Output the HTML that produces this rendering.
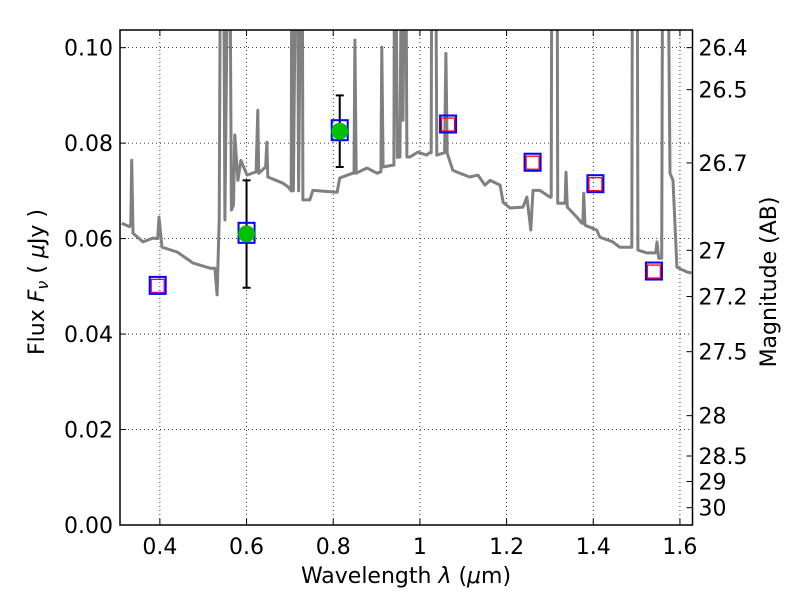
<!DOCTYPE html>
<html><head><meta charset="utf-8"><style>
body{margin:0;background:#fff;}
svg{display:block;font-family:"DejaVu Sans","Liberation Sans",sans-serif;}
</style></head><body>
<svg id="chart" width="800" height="600"></svg>
<script>
const specLam=[0.312,0.33,0.333,0.335,0.338,0.361,0.384,0.395,0.398,0.405,0.440,0.476,0.516,0.527,0.532,0.537,0.541,0.546,0.550,0.560,0.565,0.570,0.573,0.580,0.587,0.601,0.622,0.626,0.628,0.644,0.647,0.649,0.684,0.696,0.703,0.705,0.708,0.716,0.72,0.728,0.730,0.746,0.753,0.809,0.815,0.845,0.848,0.850,0.853,0.878,0.901,0.910,0.912,0.915,0.938,0.940,0.942,0.948,0.954,0.959,0.961,0.966,0.970,0.977,0.995,1.016,1.022,1.026,1.028,1.035,1.039,1.053,1.057,1.060,1.063,1.076,1.092,1.115,1.134,1.150,1.162,1.185,1.192,1.208,1.238,1.247,1.256,1.261,1.277,1.300,1.303,1.305,1.316,1.318,1.330,1.335,1.337,1.340,1.362,1.374,1.376,1.378,1.381,1.408,1.415,1.445,1.461,1.485,1.489,1.491,1.501,1.503,1.524,1.544,1.547,1.551,1.558,1.561,1.570,1.577,1.584,1.593,1.616,1.627];
const specFlux=[0.0632,0.0625,0.063,0.0764,0.0611,0.0593,0.0601,0.060,0.0645,0.0582,0.0572,0.0549,0.0538,0.0538,0.0482,0.0639,0.15,0.15,0.0639,0.15,0.0660,0.067,0.0817,0.0722,0.0764,0.0733,0.074,0.0869,0.0737,0.075,0.0802,0.0729,0.0716,0.0708,0.070,0.15,0.070,0.15,0.070,0.15,0.0681,0.0681,0.0701,0.0697,0.0727,0.0737,0.0737,0.1016,0.0737,0.0748,0.0737,0.074,0.1001,0.0750,0.0754,0.0754,0.15,0.077,0.0771,0.15,0.0848,0.15,0.0771,0.0771,0.0781,0.0775,0.078,0.078,0.15,0.15,0.0775,0.0779,0.078,0.0988,0.0779,0.0743,0.0737,0.0729,0.0733,0.0712,0.0722,0.0712,0.0676,0.0664,0.0666,0.0687,0.0618,0.0701,0.0701,0.0687,0.0687,0.15,0.15,0.0674,0.0674,0.0674,0.0739,0.0666,0.0645,0.0632,0.0632,0.0695,0.0628,0.0618,0.0603,0.0593,0.0582,0.0582,0.0582,0.15,0.15,0.0576,0.0570,0.057,0.0593,0.0559,0.0559,0.15,0.15,0.0737,0.0722,0.0540,0.0530,0.0528];
const photLam=[0.395,1.065,1.26,1.405,1.54];
const photFlux=[0.0502,0.084,0.076,0.0715,0.0532];
const detLam=[0.60,0.815];
const detFlux=[0.061,0.0825];
const detLo=[0.0497,0.075];
const detHi=[0.0722,0.090];
const xTicks=[0.4,0.6,0.8,1.0,1.2,1.4,1.6];
const xTickLabels=["0.4","0.6","0.8","1","1.2","1.4","1.6"];
const yTicks=[0,0.02,0.04,0.06,0.08,0.10];
const yTickLabels=["0.00","0.02","0.04","0.06","0.08","0.10"];
const magTicks=[26.4,26.5,26.7,27,27.2,27.5,28,28.5,29,30];
const magLabels=["26.4","26.5","26.7","27","27.2","27.5","28","28.5","29","30"];

const L=120,R=692.5,T=30,B=525;
const xmin=0.308,xmax=1.629,ymin=0,ymax=0.1037;
const X=v=>L+(v-xmin)/(xmax-xmin)*(R-L);
const Y=v=>B-(v-ymin)/(ymax-ymin)*(B-T);
const svg=document.getElementById('chart');
const NS='http://www.w3.org/2000/svg';
function mk(tag,attrs,parent){const e=document.createElementNS(NS,tag);for(const k in attrs)e.setAttribute(k,attrs[k]);(parent||svg).appendChild(e);return e;}

const defs=mk('defs',{});
const cp=mk('clipPath',{id:'clip'},defs);
mk('rect',{x:L,y:T,width:R-L,height:B-T},cp);

xTicks.forEach((v,i)=>{
  const g=mk('line',{x1:X(v),x2:X(v),y1:T,y2:B,stroke:'#000','stroke-width':0.8,'stroke-dasharray':'1,3'});
  
  
  mk('line',{x1:X(v),x2:X(v),y1:B,y2:B-6,stroke:'#000','stroke-width':1});
  mk('line',{x1:X(v),x2:X(v),y1:T,y2:T+6,stroke:'#000','stroke-width':1});
  const t=mk('text',{x:X(v),y:B+29,'text-anchor':'middle','font-size':22});
  t.textContent=xTickLabels[i];
  
  
});
yTicks.forEach((v,i)=>{
  const g=mk('line',{x1:L,x2:R,y1:Y(v),y2:Y(v),stroke:'#000','stroke-width':0.8,'stroke-dasharray':'1,3'});
  
  
  mk('line',{x1:L,x2:L+6,y1:Y(v),y2:Y(v),stroke:'#000','stroke-width':1});
  const t=mk('text',{x:L-7,y:Y(v)+8,'text-anchor':'end','font-size':22});
  t.textContent=yTickLabels[i];
  
  
});
magTicks.forEach((m,i)=>{
  const f=Math.pow(10,(23.9-m)/2.5);
  const y=Y(f);
  mk('line',{x1:R,x2:R-6,y1:y,y2:y,stroke:'#000','stroke-width':1});
  const t=mk('text',{x:R+6,y:y+8,'text-anchor':'start','font-size':22});
  t.textContent=magLabels[i];
  
  
});

let d='';
specLam.forEach((v,i)=>{d+=(i?'L':'M')+X(v).toFixed(1)+','+Y(specFlux[i]).toFixed(1);});
const sp=mk('path',{d:d,fill:'none',stroke:'#808080','stroke-width':3,'stroke-linejoin':'round','clip-path':'url(#clip)'});



photLam.forEach((v,i)=>{
  const x=X(v),y=Y(photFlux[i]);
  const o=mk('rect',{x:x-8,y:y-8.5,width:16,height:17,fill:'none',stroke:'#0000ff','stroke-width':2});
  
  
  const r=mk('rect',{x:x-6.5,y:y-6,width:13,height:13,fill:'none',stroke:i===0?'#c000c0':'#ff0000','stroke-width':1.3});
  
  
});
detLam.forEach((v,i)=>{
  const x=X(v),y=Y(detFlux[i]);
  const e=mk('line',{x1:x,x2:x,y1:Y(detHi[i]),y2:Y(detLo[i]),stroke:'#000','stroke-width':2});
  
  
  mk('line',{x1:x-4,x2:x+4,y1:Y(detHi[i]),y2:Y(detHi[i]),stroke:'#000','stroke-width':2});
  mk('line',{x1:x-4,x2:x+4,y1:Y(detLo[i]),y2:Y(detLo[i]),stroke:'#000','stroke-width':2});
  const o=mk('rect',{x:x-8,y:y-11,width:16,height:20,fill:'none',stroke:'#0000ff','stroke-width':2});
  
  
  const c=mk('circle',{cx:x,cy:y,r:8.5,fill:'#00c000'});
  
  
});

const fr=mk('rect',{x:L,y:T,width:R-L,height:B-T,fill:'none',stroke:'#000','stroke-width':1.5});


</script>
<div style="position:absolute;left:0;top:0;width:800px;height:600px;pointer-events:none;">
<svg width="800" height="600" style="position:absolute;left:0;top:0;font-family:'DejaVu Sans','Liberation Sans',sans-serif;">
<text x="406" y="583" text-anchor="middle" font-size="22">Wavelength  <tspan font-style="italic">λ</tspan> (<tspan font-style="italic">μ</tspan>m)</text>
<text transform="translate(44,282) rotate(-90)" text-anchor="middle" font-size="22">Flux  <tspan font-style="italic">F<tspan font-size="16" dy="4">ν</tspan></tspan><tspan dy="-4">  (  </tspan><tspan font-style="italic">μ</tspan>Jy )</text>
<text transform="translate(776,282) rotate(-90)" text-anchor="middle" font-size="22">Magnitude (AB)</text>
</svg></div>
</body></html>
